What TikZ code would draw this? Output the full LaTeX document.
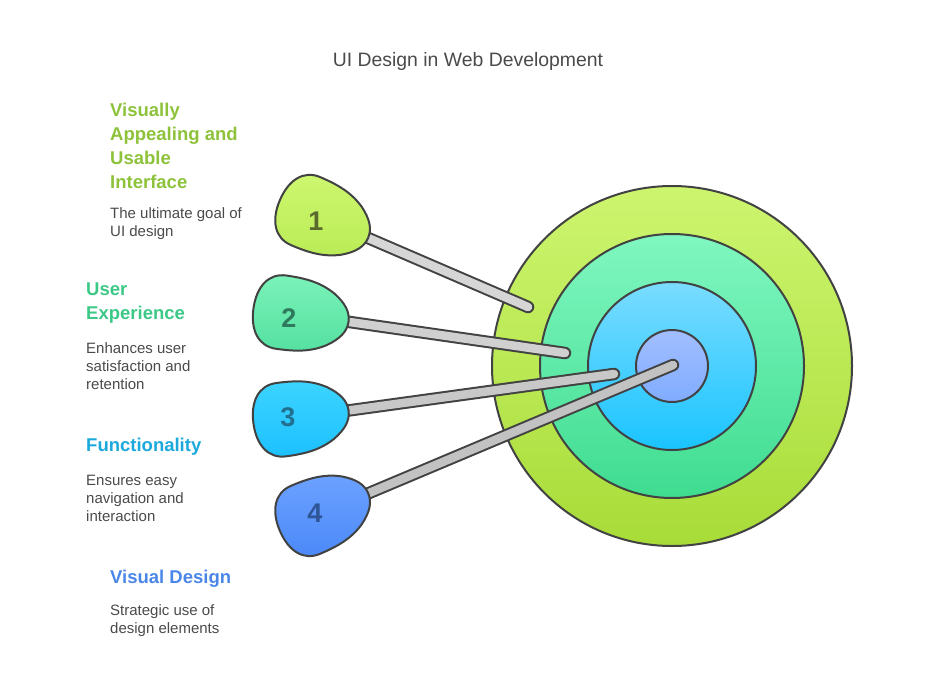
\documentclass[tikz,border=0pt]{standalone}
\usepackage{fontspec}
\setmainfont{Liberation Sans}
\newcommand{\blobpath}{(48,0) .. controls (48,10) and (42,18) .. (30,26)
      .. controls (15,35) and (0,37) .. (-20,37)
      .. controls (-38,37) and (-48,22) .. (-48,0)
      .. controls (-48,-22) and (-38,-37) .. (-20,-37)
      .. controls (0,-37) and (15,-35) .. (30,-26)
      .. controls (42,-18) and (48,-10) .. (48,0) -- cycle}
\begin{document}
\begin{tikzpicture}[x=1pt,y=-1pt,
  outl/.style={draw=black!74,line width=2pt},
  ring/.style={outl},
  shaftout/.style={line width=12.5pt,draw=black!74,line cap=round},
  shaftin/.style={line width=8.5pt,line cap=round},
  num/.style={font=\fontsize{27}{27}\selectfont\bfseries,inner sep=0pt},
  head/.style={font=\fontsize{18.5}{24}\selectfont\bfseries,anchor=base west,align=left,inner sep=0pt},
  body/.style={font=\fontsize{15}{18}\selectfont,text=black!72,anchor=base west,align=left,inner sep=0pt}]
\useasboundingbox (0,0) rectangle (936,682);
\definecolor{txt}{HTML}{4A4A4A}
\definecolor{gA}{HTML}{8DC23A}
\definecolor{gB}{HTML}{3CC887}
\definecolor{gC}{HTML}{1BA9DC}
\definecolor{gD}{HTML}{4A86E8}

% title
\node[font=\fontsize{19.4}{24}\selectfont,text=txt,anchor=base,inner sep=0pt] (title) at (468,67) {UI Design in Web Development};

% target
\coordinate (ctr) at (672,366);
\path[ring,top color={rgb,255:red,205;green,245;blue,111},bottom color={rgb,255:red,168;green,220;blue,56}] (ctr) circle[radius=180];
\path[ring,top color={rgb,255:red,128;green,247;blue,192},bottom color={rgb,255:red,63;green,220;blue,144}] (ctr) circle[radius=132];
\path[ring,top color={rgb,255:red,122;green,220;blue,255},bottom color={rgb,255:red,26;green,196;blue,255}] (ctr) circle[radius=84];
\path[ring,top color={rgb,255:red,162;green,190;blue,255},bottom color={rgb,255:red,128;green,172;blue,255}] (ctr) circle[radius=36];

% dart coordinates
\coordinate (c1) at (324,219);
\coordinate (e1) at (528,307);
\coordinate (c2) at (301,315);
\coordinate (e2) at (565,353);
\coordinate (c3) at (301,417);
\coordinate (e3) at (614,374);
\coordinate (c4) at (324,512);
\coordinate (e4) at (673,365);

% shafts
\draw[shaftout] (c1) -- (e1);
\draw[shaftin,draw={rgb,255:red,214;green,214;blue,214}] (c1) -- (e1);
\draw[shaftout] (c2) -- (e2);
\draw[shaftin,draw={rgb,255:red,208;green,208;blue,208}] (c2) -- (e2);
\draw[shaftout] (c3) -- (e3);
\draw[shaftin,draw={rgb,255:red,200;green,200;blue,200}] (c3) -- (e3);
\draw[shaftout] (c4) -- (e4);
\draw[shaftin,draw={rgb,255:red,194;green,194;blue,194}] (c4) -- (e4);

% blobs
\begin{scope}[shift={(c1)},rotate=-23.2]
\path[outl,top color={rgb,255:red,206;green,247;blue,112},bottom color={rgb,255:red,186;green,236;blue,86}] \blobpath;
\end{scope}
\begin{scope}[shift={(c2)},rotate=-8.2]
\path[outl,top color={rgb,255:red,124;green,243;blue,186},bottom color={rgb,255:red,84;green,224;blue,160}] \blobpath;
\end{scope}
\begin{scope}[shift={(c3)},rotate=7.7]
\path[outl,top color={rgb,255:red,60;green,212;blue,255},bottom color={rgb,255:red,28;green,192;blue,255}] \blobpath;
\end{scope}
\begin{scope}[shift={(c4)},rotate=22.9]
\path[outl,top color={rgb,255:red,108;green,162;blue,255},bottom color={rgb,255:red,74;green,136;blue,248}] \blobpath;
\end{scope}

\node[num,text={rgb,255:red,90;green,106;blue,46}] (n1) at (316,221) {1};
\node[num,text={rgb,255:red,47;green,122;blue,92}] (n2) at (289,318) {2};
\node[num,text={rgb,255:red,34;green,112;blue,143}] (n3) at (288,417) {3};
\node[num,text={rgb,255:red,46;green,85;blue,150}] (n4) at (315,513) {4};

% labels (anchored at the baseline of their last line)
\node[head,text=gA] (h1) at (110,188) {Visually\\Appealing and\\Usable\\Interface};
\node[body,text=txt] (b1) at (110,236) {The ultimate goal of\\UI design};
\node[head,text=gB] (h2) at (86,319) {User\\Experience};
\node[body,text=txt] (b2) at (86,389) {Enhances user\\satisfaction and\\retention};
\node[head,text=gC] (h3) at (86,451) {Functionality};
\node[body,text=txt] (b3) at (86,521) {Ensures easy\\navigation and\\interaction};
\node[head,text=gD] (h4) at (110,583) {Visual Design};
\node[body,text=txt] (b4) at (110,633) {Strategic use of\\design elements};
\end{tikzpicture}
\end{document}
